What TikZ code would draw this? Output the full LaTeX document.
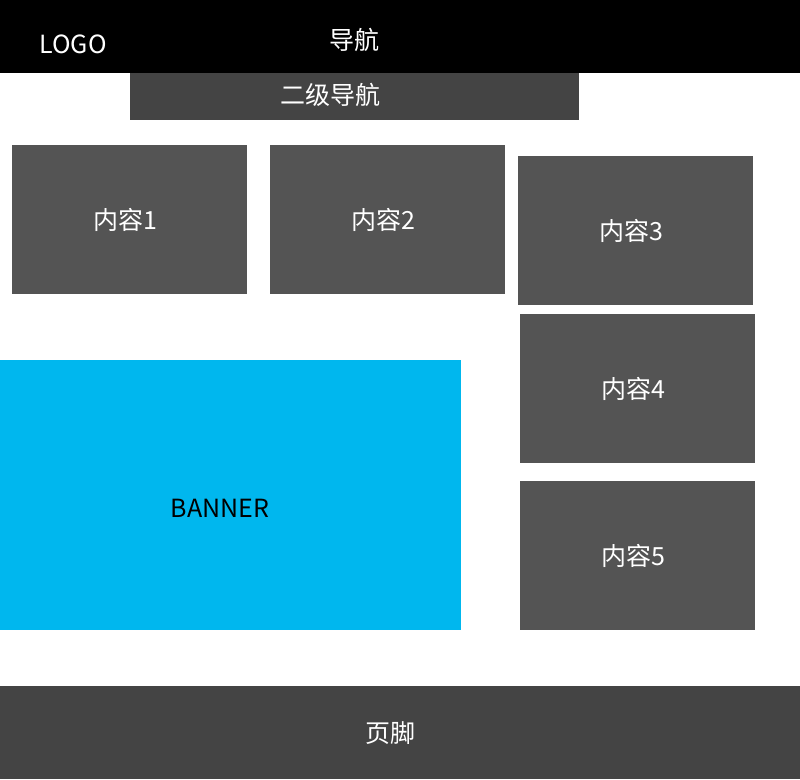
\documentclass[tikz,border=0pt]{standalone}
\usepackage{fontspec}
\setmainfont{Noto Sans CJK SC}
\usetikzlibrary{positioning}
\definecolor{subnavgray}{HTML}{444444}
\definecolor{boxgray}{HTML}{545454}
\definecolor{bannerblue}{HTML}{00B7EE}

\begin{document}
\begin{tikzpicture}[x=1pt,y=-1pt,
        block/.style={anchor=north west,inner sep=0pt,outer sep=0pt},
        content/.style={block,fill=boxgray,minimum width=235pt,minimum height=149pt},
        caption/.style={text=white,inner sep=0pt,font=\fontsize{25}{30}\selectfont}]
    \useasboundingbox (0,0) rectangle (800,779);

    % header
    \node   [block,fill=black,minimum width=800pt,minimum height=73pt]        (nav)    at (0,0)   {};
    \node   [block,fill=subnavgray,minimum width=449pt,minimum height=47pt]   (subnav) at (130,73) {};
    \node   [caption]       (logo)    at (73,44)  {LOGO};
    \node   [caption]       (navtxt)  at (354,40) {导航};
    \node   [caption]       (subtxt)  at (330,95) {二级导航};

    % content blocks
    \node   [content]       (c1)      at (12,145)  {};
    \node   [content]       (c2)      at (270,145) {};
    \node   [content]       (c3)      at (518,156) {};
    \node   [content]       (c4)      at (520,314) {};
    \node   [content]       (c5)      at (520,481) {};
    \node   [caption]       (t1)      at ([xshift=-4pt]c1.center) {内容1};
    \node   [caption]       (t2)      at ([xshift=-4pt]c2.center) {内容2};
    \node   [caption]       (t3)      at ([xshift=-4pt]c3.center) {内容3};
    \node   [caption]       (t4)      at ([xshift=-4pt]c4.center) {内容4};
    \node   [caption]       (t5)      at ([xshift=-4pt]c5.center) {内容5};

    % banner
    \node   [block,fill=bannerblue,minimum width=461pt,minimum height=270pt] (banner) at (0,360) {};
    \node   [caption,text=black] (bantxt) at (220,508) {BANNER};

    % footer
    \node   [block,fill=subnavgray,minimum width=800pt,minimum height=93pt]   (footer) at (0,686) {};
    \node   [caption]       (foottxt) at (390,733) {页脚};
\end{tikzpicture}
\end{document}
